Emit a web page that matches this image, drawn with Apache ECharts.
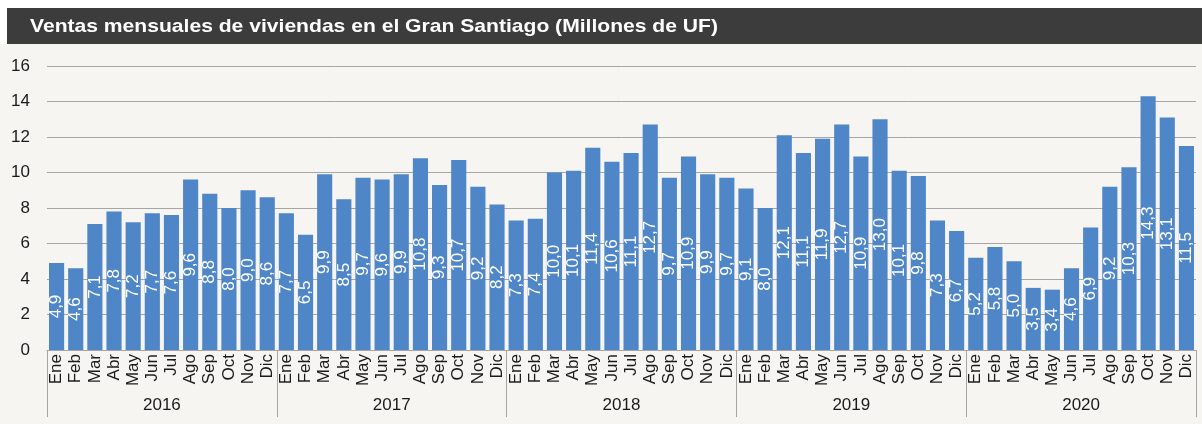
<!DOCTYPE html>
<html>
<head>
<meta charset="utf-8">
<script src="https://cdn.jsdelivr.net/npm/echarts@6/dist/echarts.min.js"></script>
<style>
html,body{margin:0;padding:0;background:#ffffff;}
#c{width:1202px;height:424px;}
</style>
</head>
<body>
<div id="c"></div>
<script>
const months = ["Ene","Feb","Mar","Abr","May","Jun","Jul","Ago","Sep","Oct","Nov","Dic"];
const years = ["2016","2017","2018","2019","2020"];
const v2016 = [4.9,4.6,7.1,7.8,7.2,7.7,7.6,9.6,8.8,8.0,9.0,8.6];
const v2017 = [7.7,6.5,9.9,8.5,9.7,9.6,9.9,10.8,9.3,10.7,9.2,8.2];
const v2018 = [7.3,7.4,10.0,10.1,11.4,10.6,11.1,12.7,9.7,10.9,9.9,9.7];
const v2019 = [9.1,8.0,12.1,11.1,11.9,12.7,10.9,13.0,10.1,9.8,7.3,6.7];
const v2020 = [5.2,5.8,5.0,3.5,3.4,4.6,6.9,9.2,10.3,14.3,13.1,11.5];
const yTicks = [0,2,4,6,8,10,12,14,16];
const titleText = "Ventas mensuales de viviendas en el Gran Santiago (Millones de UF)";

const cats = [];
years.forEach(y => months.forEach(m => cats.push(m + " " + y)));
const values = [].concat(v2016, v2017, v2018, v2019, v2020);

const chart = echarts.init(document.getElementById('c'));
const font = "'Liberation Sans', Arial, sans-serif";
chart.setOption({
  backgroundColor: '#ffffff',
  animation: false,
  graphic: [
    {type:'rect', left:0, top:44, shape:{x:0,y:0,width:1202,height:380}, style:{fill:'#f6f5f1'}, z:-10},
    {type:'rect', shape:{x:7,y:8,width:1195,height:36}, style:{fill:'#3c3c3c'}},
    {type:'text', x:30, y:27, scaleX:1.11, style:{text:titleText, fill:'#ffffff', font:"bold 19px 'Liberation Sans', Arial, sans-serif", textVerticalAlign:'middle'}}
  ],
  grid: {left:47, right:6, top:66, bottom:74},
  xAxis: [
    {
      type:'category', data:cats, gridIndex:0, position:'bottom',
      axisLine:{show:true, lineStyle:{color:'#a6a6a6', width:1}},
      axisTick:{show:false},
      axisLabel:{interval:0, rotate:90, margin:4, fontSize:17, fontFamily:font, color:'#1a1a1a',
        formatter: v => v.split(' ')[0]}
    },
    {
      type:'category', data:years, gridIndex:0, position:'bottom',
      axisLine:{show:false},
      axisTick:{show:true, length:67, lineStyle:{color:'#a6a6a6', width:1}},
      axisLabel:{margin:47, fontSize:17, fontFamily:font, color:'#1a1a1a'}
    }
  ],
  yAxis: {
    type:'value', min:0, max:16, interval:2,
    axisLine:{show:false}, axisTick:{show:false},
    axisLabel:{margin:17, fontSize:17, fontFamily:font, color:'#1a1a1a',
      formatter: v => yTicks.includes(v) ? String(v) : ''},
    splitLine:{lineStyle:{color:'#a6a6a6', width:1}}
  },
  series: [{
    type:'bar', data:values, xAxisIndex:0, barCategoryGap:'21%',
    itemStyle:{color:'#4f86c8'},
    label:{show:true, position:'inside', rotate:90, color:'#ffffff', fontSize:17, fontFamily:font,
      formatter: p => p.value.toFixed(1).replace('.', ',')}
  }]
});
</script>
</body>
</html>
